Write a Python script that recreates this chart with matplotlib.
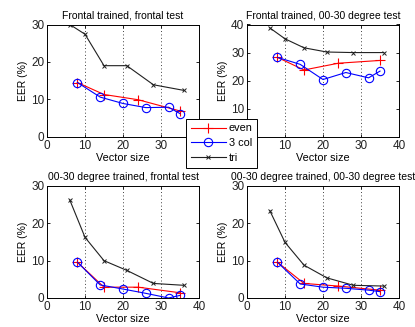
import matplotlib
matplotlib.use("Agg")
import matplotlib.pyplot as plt

plt.rcParams['font.family'] = ['Liberation Sans', 'DejaVu Sans']

titles = ["Frontal trained, frontal test",
          "Frontal trained, 00-30 degree test",
          "00-30 degree trained, frontal test",
          "00-30 degree trained, 00-30 degree test"]

even_x = [8, 15, 24, 35]
col3_x = [8, 14, 20, 26, 32, 35]
tri_x = [6, 10, 15, 21, 28, 36]

even_y = [[14.5, 11.3, 9.9, 6.9],
          [28.3, 23.8, 26.2, 27.2],
          [9.6, 2.9, 2.9, 1.4],
          [9.6, 3.9, 3.2, 2.1]]
col3_y = [[14.5, 10.6, 8.9, 7.8, 7.9, 6.2],
          [28.3, 25.8, 20.4, 22.9, 21.0, 23.4],
          [9.6, 3.5, 2.4, 1.25, 0.0, 0.7],
          [9.6, 3.75, 2.9, 2.6, 2.1, 1.7]]
tri_y = [[30.0, 27.4, 19.0, 19.0, 13.9, 12.4],
         [38.8, 34.9, 31.7, 30.2, 30.0, 30.0],
         [26.25, 16.25, 10.0, 7.4, 3.9, 3.4],
         [23.4, 14.9, 8.8, 5.4, 3.4, 3.2]]

ylims = [30, 40, 30, 30]
xticks = [0, 10, 20, 30, 40]
yticks = [[0, 10, 20, 30], [0, 10, 20, 30, 40], [0, 10, 20, 30], [0, 10, 20, 30]]
labels = ["even", "3 col", "tri"]

W, H = 415, 327
fig = plt.figure(figsize=(W / 100, H / 100), dpi=100)

boxes = [(47, 24.5, 199, 136.8), (247, 24.5, 399, 136.8),
         (47, 186, 199, 298), (247, 186, 399, 298)]

axes = []
for i, (l, t, r, b) in enumerate(boxes):
    ax = fig.add_axes([l / W, (H - b) / H, (r - l) / W, (b - t) / H])
    axes.append(ax)
    for xv in [10, 20, 30]:
        ax.axvline(xv, color='#404040', linestyle=(0, (1, 2.5)), linewidth=0.7, zorder=0)
    h1, = ax.plot(even_x, even_y[i], color='#ff0000', marker='+', markersize=7,
                  markeredgewidth=0.8, linewidth=0.8, label=labels[0])
    h2, = ax.plot(col3_x, col3_y[i], color='#0000ff', marker='o', markersize=6,
                  markerfacecolor='none', markeredgewidth=0.8, linewidth=0.8, label=labels[1])
    h3, = ax.plot(tri_x, tri_y[i], color='#202020', marker='x', markersize=3.5,
                  markeredgewidth=0.7, linewidth=0.8, label=labels[2])
    ax.set_xlim(0, 40)
    ax.set_ylim(0, ylims[i])
    ax.set_xticks(xticks)
    ax.set_yticks(yticks[i])
    ax.tick_params(direction='in', length=2.5, width=0.6, top=True, right=True,
                   labelsize=8.5, pad=2, labelcolor='#222222')
    for s in ax.spines.values():
        s.set_linewidth(0.7)
    ax.set_title(titles[i], fontsize=7.5, pad=4)
    ax.set_xlabel("Vector size", fontsize=7.8, labelpad=1)
    ax.set_ylabel("EER (%)", fontsize=7.5, labelpad=2)
    if i == 0:
        handles = [h1, h2, h3]

leg = fig.legend(handles, labels, loc='lower left',
                 bbox_to_anchor=(186 / W, (H - 168) / H, 71 / W, 50 / H),
                 mode='expand', fontsize=7.8, frameon=True, fancybox=False,
                 framealpha=1, edgecolor='black', handlelength=3.2,
                 borderpad=0.45, labelspacing=0.45, handletextpad=0.3,
                 borderaxespad=0)
leg.get_frame().set_linewidth(0.7)
leg.set_zorder(10)

fig.savefig("out.png", dpi=100)
